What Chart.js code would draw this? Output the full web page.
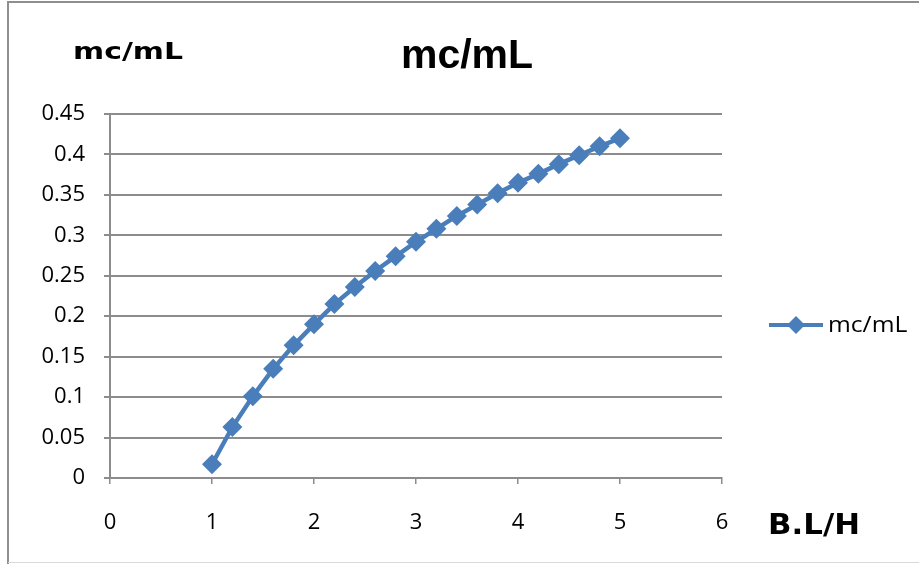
<!DOCTYPE html>
<html>
<head>
<meta charset="utf-8">
<script src="https://cdn.jsdelivr.net/npm/chart.js@4/dist/chart.umd.min.js"></script>
<style>
  html, body { margin: 0; padding: 0; background: #fff; }
  #wrap { position: relative; width: 919px; height: 564px; }
</style>
</head>
<body>
<div id="wrap"><canvas id="c" width="919" height="564"></canvas></div>
<script>
/* mc/mL against B.L/H — Excel-style line with diamond markers */
const xVals = [1, 1.2, 1.4, 1.6, 1.8, 2, 2.2, 2.4, 2.6, 2.8, 3, 3.2, 3.4, 3.6, 3.8, 4, 4.2, 4.4, 4.6, 4.8, 5];
const yVals = [0.017, 0.063, 0.101, 0.135, 0.164, 0.190, 0.215, 0.236, 0.256, 0.274, 0.292,
               0.308, 0.324, 0.338, 0.352, 0.365, 0.376, 0.388, 0.399, 0.410, 0.420];
const seriesName = "mc/mL";
const titleText = "mc/mL";
const yTitle = "mc/mL";
const xTitle = "B.L/H";

const BLUE = "#4a7ebb";
const GRID = "#8c8c8c";

// Extra text (titles, legend, frame) drawn on top of the chart
const extras = {
  id: "extras",
  afterDraw(chart) {
    const ctx = chart.ctx;
    ctx.save();
    // outer frame
    ctx.strokeStyle = "#8f8f8f"; ctx.lineWidth = 2;
    ctx.beginPath();
    ctx.moveTo(8, 565); ctx.lineTo(8, 2); ctx.lineTo(925, 2);
    ctx.stroke();
    ctx.strokeStyle = "#d9d9d9"; ctx.lineWidth = 1;
    ctx.beginPath(); ctx.moveTo(8, 562.5); ctx.lineTo(925, 562.5); ctx.stroke();

    ctx.fillStyle = "#000";
    ctx.textAlign = "center"; ctx.textBaseline = "middle";
    // main title
    ctx.font = "bold 41px 'Liberation Sans', Arial, sans-serif";
    ctx.fillText(titleText, 467, 57);
    // y title (horizontal, above the axis)
    ctx.save();
    ctx.translate(128, 53); ctx.scale(1.3, 1);
    ctx.font = "bold 23px 'DejaVu Sans', sans-serif";
    ctx.fillText(yTitle, 0, 0);
    ctx.restore();
    // x title
    ctx.save();
    ctx.translate(814, 527); ctx.scale(1.1, 1);
    ctx.font = "bold 28px 'DejaVu Sans', sans-serif";
    ctx.fillText(xTitle, 0, 0);
    ctx.restore();

    // legend
    const ly = 325;
    ctx.strokeStyle = BLUE; ctx.lineWidth = 4;
    ctx.beginPath(); ctx.moveTo(769, ly); ctx.lineTo(823, ly); ctx.stroke();
    ctx.fillStyle = BLUE;
    ctx.beginPath();
    ctx.moveTo(796 - 9, ly); ctx.lineTo(796, ly - 9); ctx.lineTo(796 + 9, ly); ctx.lineTo(796, ly + 9);
    ctx.closePath(); ctx.fill();
    ctx.fillStyle = "#000"; ctx.textAlign = "left";
    ctx.save();
    ctx.translate(828, ly + 1); ctx.scale(1.12, 1);
    ctx.font = "22px 'Open Sans', sans-serif";
    ctx.fillText(seriesName, 0, 0);
    ctx.restore();
    ctx.restore();
  }
};

new Chart(document.getElementById("c"), {
  type: "scatter",
  data: {
    datasets: [{
      label: seriesName,
      data: xVals.map((x, i) => ({ x, y: yVals[i] })),
      showLine: true,
      borderColor: BLUE,
      backgroundColor: BLUE,
      borderWidth: 4.5,
      pointStyle: "rectRot",
      pointRadius: 10,
      pointHoverRadius: 10,
      pointBorderWidth: 0,
      tension: 0,
    }],
  },
  options: {
    responsive: false,
    animation: false,
    layout: { padding: { left: 0, top: 114, right: 197, bottom: 0 } },
    plugins: { legend: { display: false }, tooltip: { enabled: false }, title: { display: false } },
    scales: {
      x: {
        type: "linear", min: 0, max: 6,
        ticks: { stepSize: 1, padding: 26, color: "#000",
          font: { family: "'Open Sans', sans-serif", size: 22 } },
        grid: { drawOnChartArea: false, drawTicks: true, tickLength: 6, color: GRID, lineWidth: 1.5 },
        border: { display: true, color: GRID, width: 2 },
        afterFit(s) { s.height = 86; },
      },
      y: {
        type: "linear", min: 0, max: 0.45,
        ticks: { stepSize: 0.05, padding: 19, color: "#000",
          font: { family: "'Open Sans', sans-serif", size: 22 },
          callback: v => String(+v.toFixed(2)) },
        grid: { drawTicks: true, tickLength: 6, color: GRID, lineWidth: 2 },
        border: { display: true, color: GRID, width: 2 },
        afterFit(s) { s.width = 110; },
      },
    },
  },
  plugins: [extras],
});
</script>
</body>
</html>
